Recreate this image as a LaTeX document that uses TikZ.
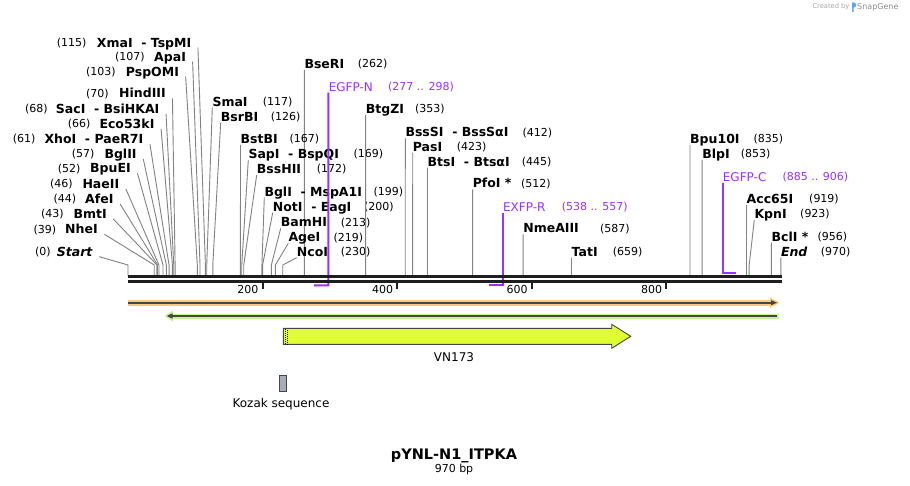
\documentclass[tikz,border=0pt]{standalone}
\usepackage{fontspec}
\setmainfont{DejaVu Sans}
\usetikzlibrary{arrows.meta,calc}
\definecolor{lnc}{RGB}{130,130,130}
\definecolor{prim}{RGB}{155,48,255}
\definecolor{bb}{RGB}{30,30,30}
\definecolor{orf}{RGB}{250,200,125}
\definecolor{grf}{RGB}{195,245,150}
\definecolor{ylw}{RGB}{224,255,51}
\definecolor{dk}{RGB}{70,70,70}
\definecolor{kz}{RGB}{169,174,182}
\definecolor{sgblue}{RGB}{90,170,230}
\tikzset{
  nm/.style={inner sep=0pt, font=\fontsize{12.5}{14}\selectfont\bfseries, text height=9pt, text depth=0pt},
  num/.style={inner sep=0pt, font=\fontsize{11}{13}\selectfont, text height=8pt, text depth=0pt},
  pl/.style={inner sep=0pt, font=\fontsize{12}{14}\selectfont, text=prim, text height=8.7pt, text depth=0pt},
  pln/.style={inner sep=0pt, font=\fontsize{11}{13}\selectfont, text=prim, text height=8pt, text depth=0pt},
  siteln/.style={draw=lnc, line width=0.9pt},
  primln/.style={draw=prim, line width=2pt, line join=miter},
  bbln/.style={draw=bb},
  tickln/.style={draw=bb, line width=2pt},
  ticklab/.style={inner sep=0pt, font=\fontsize{11}{13}\selectfont, text height=8pt, text depth=0pt, anchor=east},
  feat/.style={inner sep=0pt, font=\fontsize{12}{14}\selectfont},
}
% right-hand label: id, name, label x, y, number x, bp
\newcommand\rsite[6]{%
  \node[nm,anchor=west] (#1) at (#3,#4) {#2};
  \node[num,anchor=west] (#1n) at (#5,#4) {(#6)};
  \coordinate (#1k) at ({128+0.673*#6},265);
  \coordinate (#1b) at ({128+0.673*#6},276);
  \draw[siteln] ($(#1.west)+(0,6)$) -- (#1k) -- (#1b);
}
% left-hand label: id, number x, number, name x, name, y, bp
\newcommand\lsite[7]{%
  \node[num,anchor=west] (#1n) at (#2,#6) {(#3)};
  \node[nm,anchor=west] (#1) at (#4,#6) {#5};
  \coordinate (#1k) at ({128+0.673*#7},265);
  \coordinate (#1b) at ({128+0.673*#7},276);
  \draw[siteln] ($(#1.east)+(6.5,5)$) -- (#1k) -- (#1b);
}
\begin{document}
\begin{tikzpicture}[x=1pt,y=-1pt]
\path[use as bounding box, fill=white] (0,0) rectangle (910,486);

% ---- features ----
% orange (forward)
\draw[orf, line width=6pt] (128,302.7) -- (772,302.7);
\fill[orf] (770,297.6) -- (779.5,302.7) -- (770,307.8) -- cycle;
\draw[dk, line width=2pt] (128,302.7) -- (772,302.7);
\fill[dk] (771,300.1) -- (777,302.7) -- (771,305.3) -- cycle;
% green (reverse)
\draw[grf, line width=5pt] (171,316) -- (779,316);
\fill[grf] (173,310.5) -- (164.5,316) -- (173,321.5) -- cycle;
\draw[dk, line width=2pt] (171,316) -- (777.3,316);
\fill[dk] (172.5,313.3) -- (166.8,316) -- (172.5,318.7) -- cycle;
% VN173 arrow
\draw[fill=ylw, draw=dk, line width=0.9pt, line join=miter]
  (283.3,328.3) -- (611.7,328.3) -- (611.7,324.3) -- (630.7,336.3) -- (611.7,348.3) -- (611.7,344.3) -- (283.3,344.3) -- cycle;
\draw[black, line width=0.9pt, dash pattern=on 1pt off 1pt] (285.2,329) -- (285.2,344);
\draw[black, line width=0.9pt, dash pattern=on 1pt off 1pt] (287.2,329.5) -- (287.2,344);
\node[feat] (vn173) at (454,357) {VN173};
% Kozak
\draw[fill=kz, draw=dk, line width=0.9pt] (279.3,375) rectangle (286.7,391.7);
\node[feat] (kozak) at (281,404.3) {Kozak sequence};

% ---- left labels ----
\lsite{xmai}{56.7}{115}{96.7}{XmaI\ \ - TspMI}{42.7}{115}
\lsite{apai}{115}{107}{154}{ApaI}{56.7}{107}
\lsite{pspomi}{86}{103}{125.7}{PspOMI}{71.7}{103}
\lsite{hindiii}{86}{70}{119}{HindIII}{93.3}{70}
\lsite{saci}{25}{68}{55.7}{SacI\ \ - BsiHKAI}{109}{68}
\lsite{eco}{67.7}{66}{99.3}{Eco53kI}{124}{66}
\lsite{xhoi}{12.7}{61}{44.3}{XhoI\ \ - PaeR7I}{139}{61}
\lsite{bglii}{71.7}{57}{104.3}{BglII}{154}{57}
\lsite{bpuei}{57.7}{52}{90}{BpuEI}{168.3}{52}
\lsite{haeii}{50}{46}{82.3}{HaeII}{184}{46}
\lsite{afei}{53.3}{44}{85}{AfeI}{199}{44}
\lsite{bmti}{41}{43}{73.3}{BmtI}{214}{43}
\lsite{nhei}{33.3}{39}{65}{NheI}{229.3}{39}
\lsite{startl}{35}{0}{56.7}{\itshape Start}{251.7}{0}

% ---- right labels ----
\rsite{smai}{SmaI}{212.3}{101.7}{262.7}{117}
\rsite{bsrbi}{BsrBI}{220.7}{116.7}{270.7}{126}
\rsite{bseri}{BseRI}{304.3}{64}{357.7}{262}
\rsite{bstbi}{BstBI}{240.5}{139}{289.3}{167}
\rsite{sapi}{SapI\ \ - BspQI}{248.3}{154}{353.3}{169}
\rsite{bsshii}{BssHII}{256.7}{169}{316.7}{172}
\rsite{bgli}{BglI\ \ - MspA1I}{264.3}{191.7}{373.3}{199}
\rsite{noti}{NotI\ \ - EagI}{272.7}{206.7}{364}{200}
\rsite{bamhi}{BamHI}{280.7}{222.3}{340.7}{213}
\rsite{agei}{AgeI}{288.3}{237.3}{333.3}{219}
\rsite{ncoi}{NcoI}{296.7}{251.7}{340.7}{230}
\rsite{btgzi}{BtgZI}{365.6}{109}{415}{353}
\rsite{bsssi}{BssSI\ \ - BssSαI}{405.3}{132.3}{522.3}{412}
\rsite{pasi}{PasI}{412.7}{146.7}{456.7}{423}
\rsite{btsi}{BtsI\ \ - BtsαI}{427.5}{161.7}{521.7}{445}
\rsite{pfoi}{PfoI *}{472.6}{183.3}{521}{512}
\rsite{nmeaiii}{NmeAIII}{523.1}{228.3}{600}{587}
\rsite{tati}{TatI}{571.5}{251.7}{612.7}{659}
\rsite{bpu}{Bpu10I}{690}{139}{753.3}{835}
\rsite{blpi}{BlpI}{702.1}{154}{740.7}{853}
\rsite{acc}{Acc65I}{746.5}{199}{809}{919}
\rsite{kpni}{KpnI}{754.3}{214}{800}{923}
\rsite{bcli}{BclI *}{771.4}{236.7}{817.3}{956}
\rsite{endl}{\itshape End}{780.8}{251.7}{820.7}{970}

% ---- primers (under the backbone) ----
\node[pl,anchor=west] (egfpn) at (328.6,86.7) {EGFP-N};
\node[pln,anchor=west] (egfpnn) at (388,86.7) {(277 .. 298)};
\coordinate (egfpnk) at (328.4,285.5);
\coordinate (egfpne) at (314.2,285.5);
\draw[primln] ($(egfpn.west)+(-0.2,6)$) -- (egfpnk) -- (egfpne);

\node[pl,anchor=west] (exfpr) at (502.9,206.7) {EXFP-R};
\node[pln,anchor=west] (exfprn) at (561.7,206.7) {(538 .. 557)};
\coordinate (exfprk) at (502.7,285.5);
\coordinate (exfpre) at (489.4,285.5);
\draw[primln] ($(exfpr.west)+(-0.2,6)$) -- (exfprk) -- (exfpre);

\node[pl,anchor=west] (egfpc) at (722.7,176.7) {EGFP-C};
\node[pln,anchor=west] (egfpcn) at (782.3,176.7) {(885 .. 906)};
\coordinate (egfpck) at (722.7,272.7);
\coordinate (egfpce) at (736.3,272.7);
\draw[primln] ($(egfpc.west)+(0,6)$) -- (egfpck) -- (egfpce);

% ---- backbone ----
\draw[bbln, line width=2.7pt] (128,276.7) -- (781.5,276.7);
\draw[bbln, line width=2.3pt] (128,281.5) -- (781.5,281.5);
\foreach \t in {200,400,600,800}{
  \coordinate (tk\t) at ({128+0.673*\t},281.5);
  \coordinate (tb\t) at ({128+0.673*\t},289.5);
  \draw[tickln] (tk\t) -- (tb\t);
  \node[ticklab] (tl\t) at ({128+0.673*\t-4},289.5) {\t};
}

% ---- title ----
\node[inner sep=0pt, font=\fontsize{14.5}{16}\selectfont\bfseries] (title) at (454,456) {pYNL-N1\_ITPKA};
\node[inner sep=0pt, font=\fontsize{11}{13}\selectfont] (bp) at (454,469.5) {970 bp};

% ---- credit ----
\node[inner sep=0pt, anchor=west, font=\fontsize{6.7}{8}\selectfont, text=black!35] (cr) at (812.3,7) {Created by};
\fill[sgblue] (852,2.5) rectangle (853.6,12) (853.6,2.5) arc[start angle=90, end angle=-90, radius=2.6pt] -- cycle;
\node[inner sep=0pt, anchor=west, font=\fontsize{8}{9}\selectfont, text=black!45] (sg) at (857,7) {SnapGene};
\end{tikzpicture}
\end{document}
